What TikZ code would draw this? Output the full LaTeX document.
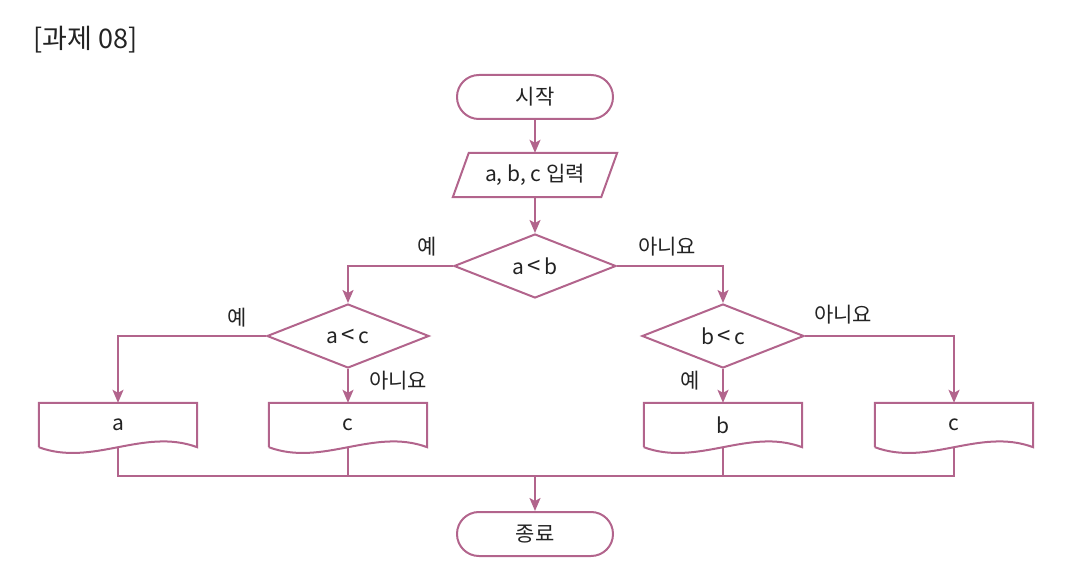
\documentclass[tikz,border=0pt]{standalone}
\usepackage{fontspec}
\setmainfont{Noto Sans CJK KR}
\usepackage{tikz}
\usetikzlibrary{positioning}
\usetikzlibrary{calc}
\usetikzlibrary{shapes.geometric}
\usetikzlibrary{arrows.meta}
\definecolor{cl}{RGB}{178,100,140}
\definecolor{ct}{RGB}{35,35,35}
\tikzstyle{every node}=[text=ct, font=\fontsize{21}{25}\selectfont]
\tikzstyle{terminal}=[draw=cl, line width=2pt, minimum width=156pt, minimum height=44pt, rounded corners=21.9pt]
\tikzstyle{ghost}=[minimum height=44pt, inner sep=0pt]
\tikzstyle{decision}=[diamond, aspect=2.5, draw=cl, line width=2pt, minimum width=162pt, minimum height=64pt, inner sep=0pt]
\tikzstyle{label}=[inner sep=0pt]
\tikzstyle{line}=[cl, line width=2pt]
\tikzstyle{arrow}=[line, -{Stealth[length=13pt, width=11pt, inset=3pt]}]
\begin{document}
\begin{tikzpicture}[x=1pt, y=-1pt]
  \useasboundingbox (0,0) rectangle (1076,575);
  \node [label, anchor=west, font=\fontsize{27}{31}\selectfont] (title) at (33,40) {[과제 08]};

  \node [terminal] (start) at (535,97) {시작};
  \node [ghost, minimum width=164pt] (input) at (535,175) {a, b, c 입력};
  \draw [line] ($(input.north west)+(16,0)$) -- (input.north east)
    -- ($(input.south east)-(16,0)$) -- (input.south west) -- cycle;

  \node [decision] (ab) at (535,266) {a\,{\fontsize{24}{25}\selectfont<}\,b};
  \node [decision] (ac) at (348,336) {a\,{\fontsize{24}{25}\selectfont<}\,c};
  \node [decision] (bc) at (723,336) {b\,{\fontsize{24}{25}\selectfont<}\,c};

  % output documents
  \foreach \name/\x/\txt in {outa/118/a, outc/348/c, outb/723/b, outcc/954/c} {
    \node [ghost, minimum width=158pt] (\name) at (\x,425) {\txt};
    \draw [line] (\name.south west) -- (\name.north west) -- (\name.north east)
      -- (\name.south east) .. controls +(-54,-20) and +(54,20) .. (\name.south west);
  }

  \node [terminal] (end) at (535,534) {종료};
  \coordinate (join) at (535,476);

  \node [label] (yes1) at (427,247) {예};
  \node [label] (no1) at (667,247) {아니요};
  \node [label] (yes2) at (237,318) {예};
  \node [label] (no2) at (398,381) {아니요};
  \node [label] (no3) at (843,315) {아니요};
  \node [label] (yes3) at (690,381) {예};

  \draw [arrow] (start) -- (input);
  \draw [arrow] (input) -- (ab.north);
  \draw [arrow] (ab.west) -| (ac.north);
  \draw [arrow] (ab.east) -| (bc.north);
  \draw [arrow] (ac.west) -| (outa.north);
  \draw [arrow] (ac.south) -- (outc.north);
  \draw [arrow] (bc.south) -- (outb.north);
  \draw [arrow] (bc.east) -| (outcc.north);
  \draw [line] (outa.south) |- (join);
  \draw [line] (outc.south) |- (join);
  \draw [line] (outb.south) |- (join);
  \draw [line] (outcc.south) |- (join);
  \draw [arrow] (join) -- (end);
\end{tikzpicture}
\end{document}
